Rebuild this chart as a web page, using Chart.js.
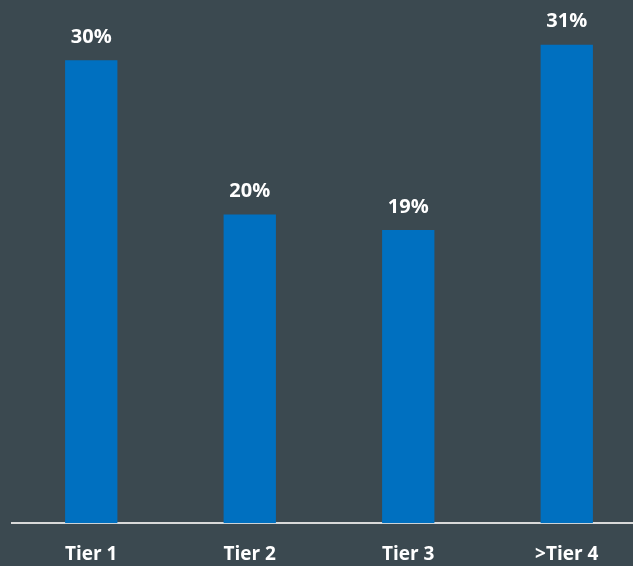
<!DOCTYPE html>
<html>
<head>
<meta charset="utf-8">
<script src="https://cdn.jsdelivr.net/npm/chart.js@4/dist/chart.umd.min.js"></script>
<style>
  html, body { margin: 0; padding: 0; background: #3b4950; overflow: hidden; }
  #wrap { width: 646px; height: 582px; }
</style>
</head>
<body>
<div id="wrap"><canvas id="tier-chart"></canvas></div>
<script>
var categories = ["Tier 1", "Tier 2", "Tier 3", ">Tier 4"];
var shares = [30, 20, 19, 31];
var valueLabels = ["30%", "20%", "19%", "31%"];

var fontFamily = '"Open Sans", "Lato", sans-serif';

var barLabels = {
  id: 'barLabels',
  afterDatasetsDraw: function (chart) {
    var ctx = chart.ctx;
    var meta = chart.getDatasetMeta(0);
    ctx.save();
    ctx.fillStyle = '#ffffff';
    ctx.font = 'bold 20px ' + fontFamily;
    ctx.textAlign = 'center';
    ctx.textBaseline = 'bottom';
    meta.data.forEach(function (bar, i) {
      ctx.fillText(valueLabels[i], bar.x, bar.y - 13);
    });
    ctx.restore();
  }
};

var tierChart = new Chart(document.getElementById('tier-chart'), {
  type: 'bar',
  data: {
    labels: categories,
    datasets: [{
      data: shares,
      backgroundColor: '#0070c0',
      barPercentage: 0.33,
      categoryPercentage: 1
    }]
  },
  options: {
    responsive: true, maintainAspectRatio: false, animation: false,
    layout: { padding: { left: 12, right: 0, top: 0, bottom: 4 } },
    plugins: { legend: { display: false }, tooltip: { enabled: false } },
    scales: {
      x: {
        grid: { display: false },
        border: { display: true, color: '#d9d9d9', width: 2 },
        ticks: { color: '#ffffff', padding: 12, font: { family: fontFamily, size: 19, weight: 'bold' } }
      },
      y: { display: false, min: 0, max: 33.9 }
    }
  },
  plugins: [barLabels]
});
</script>
</body>
</html>
